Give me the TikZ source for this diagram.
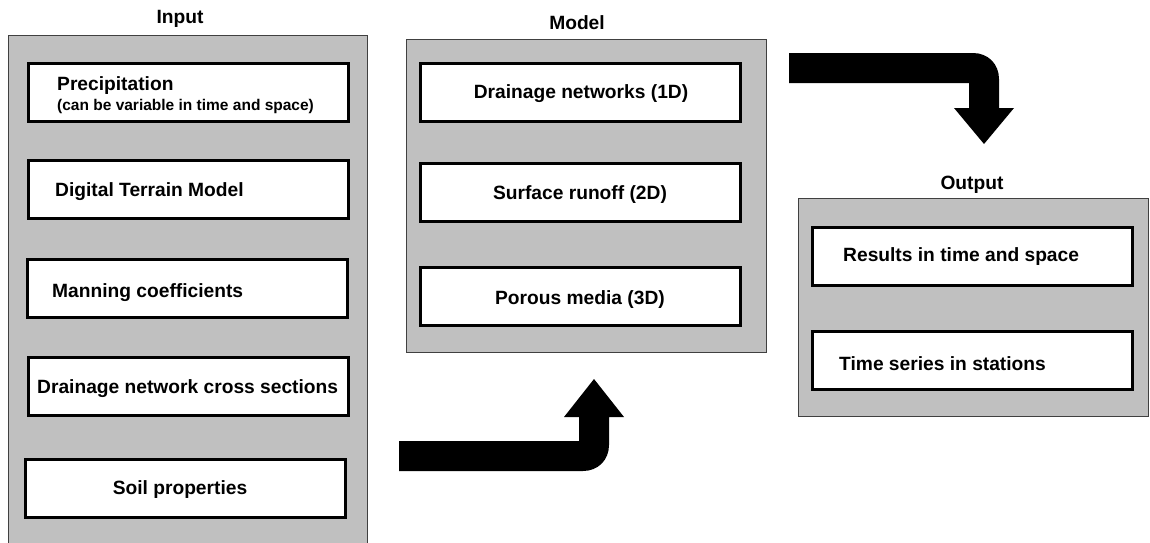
\documentclass[tikz,border=0pt]{standalone}
\usepackage{fontspec}
\setmainfont{Liberation Sans}
\usetikzlibrary{positioning}
\definecolor{panelgray}{HTML}{C0C0C0}
\tikzset{
	panel/.style={draw=black!75, line width=1pt, fill=panelgray, inner sep=0pt},
	inbox/.style={draw=black, line width=3pt, fill=white, inner sep=0pt, minimum width=320pt, minimum height=58pt},
	lbl/.style={inner sep=0pt, font=\fontsize{19.2}{22}\selectfont\bfseries},
	sublbl/.style={inner sep=0pt, font=\fontsize{15.5}{18}\selectfont\bfseries},
	bigarrow/.style={fill=black, draw=none}
}

\begin{document}
\begin{tikzpicture}[x=1pt, y=-1pt]
		%%%%% START %%%%%
		\useasboundingbox (0, 0) rectangle (1150, 542);
		
		% panels
		\node[panel, minimum width=359pt, minimum height=512pt] (inpanel) at (187.5, 291) {};
		\node[panel, minimum width=360pt, minimum height=313pt] (modpanel) at (586, 195.5) {};
		\node[panel, minimum width=350pt, minimum height=218pt] (outpanel) at (973, 307) {};
		
		\node[lbl] (intitle) at (180, 19) {Input};
		\node[lbl] (modtitle) at (577, 23) {Model};
		\node[lbl] (outtitle) at (972, 185) {Output};
		
		% input boxes
		\node[inbox] (prec) at (188.5, 92.5) {};
		\node[inbox] (dtm) at (188, 189.5) {};
		\node[inbox] (mann) at (187.5, 288.5) {};
		\node[inbox] (cross) at (188, 386) {};
		\node[inbox] (soil) at (185, 488.5) {};
		
		\node[lbl, anchor=west] (precl) at (57, 86) {Precipitation};
		\node[sublbl, anchor=west] (precs) at (57, 106) {(can be variable in time and space)};
		\node[lbl, anchor=west] (dtml) at (55, 192) {Digital Terrain Model};
		\node[lbl, anchor=west] (mannl) at (52, 293) {Manning coefficients};
		\node[lbl, anchor=west] (crossl) at (37, 389) {Drainage network cross sections};
		\node[lbl] (soill) at (180, 490) {Soil properties};
		
		% model boxes
		\node[inbox] (drain) at (580, 92) {};
		\node[inbox] (surf) at (580.5, 192.5) {};
		\node[inbox] (por) at (580.5, 296.5) {};
		
		\node[lbl] (drainl) at (581, 94) {Drainage networks (1D)};
		\node[lbl] (surfl) at (580, 195) {Surface runoff (2D)};
		\node[lbl] (porl) at (580, 300) {Porous media (3D)};
		
		% output boxes
		\node[inbox] (res) at (972.5, 256.5) {};
		\node[inbox] (ts) at (972.5, 360.5) {};
		
		\node[lbl, anchor=west] (resl) at (843, 257) {Results in time and space};
		\node[lbl, anchor=west] (tsl) at (839, 364) {Time series in stations};
		
		% arrows
		\fill[bigarrow] (399, 441) -- (579, 441) -- (579, 417) -- (564, 417) -- (594, 379) -- (624, 417) -- (609, 417) -- (609, 445)
			.. controls (609, 460) and (598, 471) .. (583, 471) -- (399, 471) -- cycle;
		\fill[bigarrow] (789, 53) -- (973, 53) .. controls (988, 53) and (999, 64) .. (999, 79) -- (999, 108) -- (1014, 108)
			-- (984, 144) -- (954, 108) -- (969, 108) -- (969, 83) -- (789, 83) -- cycle;
		
		%%%%% END %%%%%
	\end{tikzpicture}
\end{document}
